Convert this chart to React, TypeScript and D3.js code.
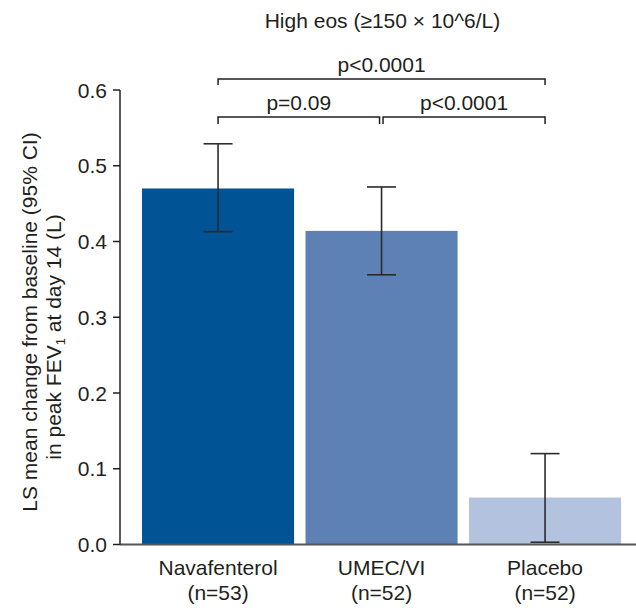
import React from 'react';
import * as d3 from 'd3';

// values
const categories = ['Navafenterol', 'UMEC/VI', 'Placebo'];
const nLabels = ['(n=53)', '(n=52)', '(n=52)'];
const means = [0.47, 0.414, 0.062];
const ciLow = [0.413, 0.356, 0.003];
const ciHigh = [0.529, 0.472, 0.12];
const barColors = ['#005496', '#5e81b5', '#b3c2df'];
const yTicks = [0, 0.1, 0.2, 0.3, 0.4, 0.5, 0.6];
// comparisons: [from index, to index, label, level]
const comparisons: [number, number, string, number][] = [
  [0, 2, 'p<0.0001', 1],
  [0, 1, 'p=0.09', 0],
  [1, 2, 'p<0.0001', 0],
];

const W = 636;
const H = 608;
const font = '"Liberation Sans", Arial, sans-serif';
const ink = '#231f20';

const App = () => {
  const x = d3.scaleBand().domain(categories).range([136.3, 626.8]).paddingInner(0.07).paddingOuter(0.035);
  const y = d3.scaleLinear().domain([0, 0.6]).range([544.5, 90]);
  const fmt = d3.format('.1f');
  const axisX = 120;
  const cx = (c: string) => (x(c) as number) + x.bandwidth() / 2;

  const bracketY = [117, 79];
  const textY = [110, 72];

  return (
    <svg width={W} height={H} style={{ display: 'block', position: 'absolute', left: 0, top: 0 }} fontFamily={font}>
      <rect width={W} height={H} fill="#fff" />

      <text x={382.5} y={28} textAnchor="middle" fontSize={21} fill={ink}>High eos (≥150 × 10^6/L)</text>

      {/* bars */}
      {categories.map((c, i) => (
        <rect key={c} x={x(c)} y={y(means[i])} width={x.bandwidth()} height={y(0) - y(means[i])} fill={barColors[i]} />
      ))}

      {/* error bars */}
      {categories.map((c, i) => (
        <g key={'e' + c} stroke="#2b2b2b" strokeWidth={1.6}>
          <line x1={cx(c)} x2={cx(c)} y1={y(ciHigh[i])} y2={y(ciLow[i])} />
          <line x1={cx(c) - 14.5} x2={cx(c) + 14.5} y1={y(ciHigh[i])} y2={y(ciHigh[i])} />
          <line x1={cx(c) - 14.5} x2={cx(c) + 14.5} y1={y(ciLow[i])} y2={y(ciLow[i])} />
        </g>
      ))}

      {/* x baseline */}
      <line x1={axisX} x2={W} y1={y(0)} y2={y(0)} stroke="#555" strokeWidth={2} />

      {/* y axis */}
      <line x1={axisX} x2={axisX} y1={y(0.6)} y2={y(0)} stroke={ink} strokeWidth={1.5} />
      {yTicks.map(t => (
        <g key={t}>
          <line x1={axisX - 7} x2={axisX} y1={y(t)} y2={y(t)} stroke={ink} strokeWidth={1.5} />
          <text x={107} y={y(t)} dy="0.36em" textAnchor="end" fontSize={21} fill={ink}>{fmt(t)}</text>
        </g>
      ))}

      {/* y axis title */}
      <g transform="translate(37,322) rotate(-90)">
        <text x={0} y={0} textAnchor="middle" fontSize={21} fill={ink}>LS mean change from baseline (95% CI)</text>
      </g>
      <g transform="translate(61,337) rotate(-90)">
        <text x={0} y={0} textAnchor="middle" fontSize={21} fill={ink}>
          in peak FEV<tspan fontSize={13} dy={4}>1</tspan><tspan dy={-4}> at day 14 (L)</tspan>
        </text>
      </g>

      {/* category labels */}
      {categories.map((c, i) => (
        <g key={'l' + c}>
          <text x={cx(c)} y={575} textAnchor="middle" fontSize={21} fill={ink}>{c}</text>
          <text x={cx(c)} y={600} textAnchor="middle" fontSize={21} fill={ink}>{nLabels[i]}</text>
        </g>
      ))}

      {/* significance brackets */}
      {comparisons.map(([a, b, label, lvl], k) => {
        const x1 = cx(categories[a]) + (lvl === 0 && a === 1 ? 1.5 : 0);
        const x2 = cx(categories[b]) - (lvl === 0 && b === 1 ? 2 : 0);
        const by = bracketY[lvl];
        const drop = lvl === 0 ? 7 : 6;
        return (
          <g key={'c' + k}>
            <path d={`M${x1},${by + drop}V${by}H${x2}V${by + drop}`} fill="none" stroke={ink} strokeWidth={1.5} />
            <text x={(x1 + x2) / 2} y={textY[lvl]} textAnchor="middle" fontSize={21} fill={ink}>{label}</text>
          </g>
        );
      })}
    </svg>
  );
};

export default App;
